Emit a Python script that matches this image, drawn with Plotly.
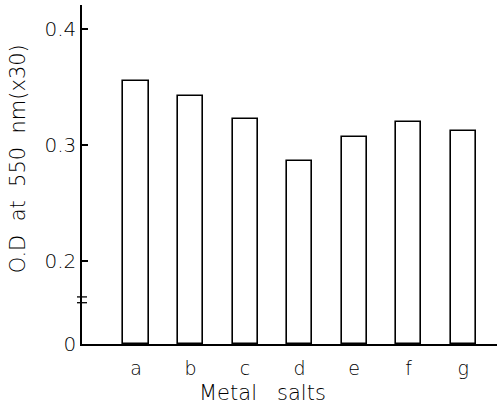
import plotly.graph_objects as go

categories = ["a", "b", "c", "d", "e", "f", "g"]
od_values = [0.355, 0.342, 0.322, 0.286, 0.307, 0.320, 0.312]
tick_labels = ["0", "0.2", "0.3", "0.4"]

# broken axis: the "0" is drawn at this display value
ZERO_POS = 0.1284
BREAK_POS = 0.1665
tick_vals = [ZERO_POS, 0.2, 0.3, 0.4]

FONT = "DejaVu Sans"
FW = 200

fig = go.Figure()
fig.add_trace(go.Bar(
    x=categories,
    y=[v - ZERO_POS for v in od_values],
    base=ZERO_POS,
    width=0.46,
    marker=dict(color="white", line=dict(color="black", width=1.6)),
    hovertext=[str(v) for v in od_values],
))

fig.update_layout(
    width=498, height=410,
    margin=dict(l=82, r=1, t=5, b=66),
    paper_bgcolor="white", plot_bgcolor="white",
    showlegend=False,
    font=dict(family=FONT, size=19, color="black", weight=FW),
    bargap=0,
)
fig.update_xaxes(
    range=[-0.99, 6.62],
    showline=True, linecolor="black", linewidth=1.5,
    ticks="", showgrid=False, zeroline=False,
    tickfont=dict(size=19, weight=FW),
    ticklabelstandoff=6,
)
fig.update_yaxes(
    range=[ZERO_POS, 0.4207],
    showline=True, linecolor="black", linewidth=1.5,
    ticks="inside", ticklen=6, tickwidth=1.5, tickcolor="black",
    tickvals=tick_vals, ticktext=tick_labels,
    showgrid=False, zeroline=False,
    tickfont=dict(size=20, weight=FW),
)

# axis break marks
for dy in (-0.0025, 0.0025):
    fig.add_shape(type="line", xref="paper", yref="y",
                  xsizemode="pixel", xanchor=0, x0=-5, x1=5,
                  y0=BREAK_POS + dy, y1=BREAK_POS + dy,
                  line=dict(color="black", width=1.3))

fig.add_annotation(text="O.D  at  550  nm(x30)", textangle=-90,
                   xref="paper", yref="paper", x=0, y=0.545,
                   xshift=-64, xanchor="center", yanchor="middle",
                   showarrow=False, font=dict(size=21, weight=FW))
fig.add_annotation(text="Metal   salts",
                   xref="paper", yref="paper", x=0.434, y=0,
                   yshift=-49, xanchor="center", yanchor="middle",
                   showarrow=False, font=dict(size=21, weight=FW))

fig.write_html("out.html")
